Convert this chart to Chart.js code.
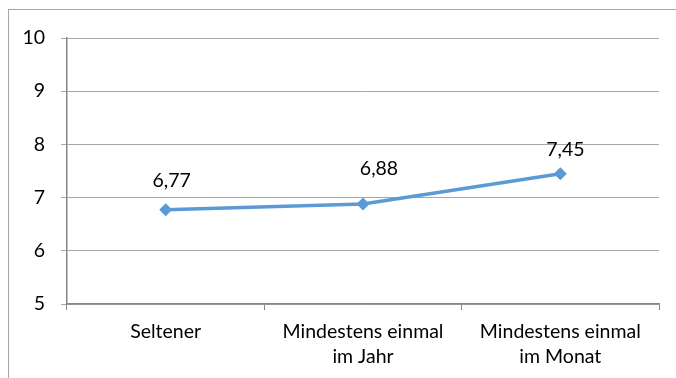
<!DOCTYPE html>
<html>
<head>
<meta charset="utf-8">
<script src="https://cdn.jsdelivr.net/npm/chart.js@4/dist/chart.umd.min.js"></script>
<style>
  html, body { margin: 0; padding: 0; background: #fff; overflow: hidden; width: 676px; height: 378px; }
  #frame { position: absolute; left: 8px; top: 9px; width: 720px; height: 420px; border: 1px solid #a6a6a6; }
  canvas { position: absolute; left: 0; top: 0; }
</style>
</head>
<body>
<div id="frame"></div>
<canvas id="c" width="676" height="378"></canvas>
<script>
const categories = [["Seltener"], ["Mindestens einmal", "im Jahr"], ["Mindestens einmal", "im Monat"]];
const values = [6.77, 6.88, 7.45];
const valueLabels = ["6,77", "6,88", "7,45"];
const yTicks = [5, 6, 7, 8, 9, 10];

const FONT = "Lato, 'Open Sans', sans-serif";
const FSIZE = 19.5;

const labelPlugin = {
  id: 'valueLabels',
  afterDatasetsDraw(chart, args, opts) {
    const ctx = chart.ctx;
    const meta = chart.getDatasetMeta(0);
    ctx.save();
    ctx.font = opts.font;
    ctx.fillStyle = '#000';
    ctx.textAlign = 'center';
    ctx.textBaseline = 'middle';
    meta.data.forEach((pt, i) => {
      ctx.fillText(valueLabels[i], pt.x + opts.dx[i], pt.y + opts.dy[i]);
    });
    ctx.restore();
  }
};

new Chart(document.getElementById('c'), {
  type: 'line',
  data: {
    labels: categories,
    datasets: [{
      data: values,
      borderColor: '#5b9bd5',
      backgroundColor: '#5b9bd5',
      borderWidth: 3.5,
      pointStyle: 'rectRot',
      pointRadius: 6.5,
      pointBorderWidth: 0,
      pointBackgroundColor: '#5b9bd5',
      tension: 0,
      fill: false
    }]
  },
  options: {
    responsive: false,
    devicePixelRatio: 1,
    animation: false,
    layout: { padding: { left: 0, right: 17, top: 38, bottom: 0 } },
    plugins: {
      legend: { display: false },
      tooltip: { enabled: false },
      valueLabels: { font: FSIZE + "px " + FONT, dx: [6, 16, 5], dy: [-29, -35, -24] }
    },
    scales: {
      x: {
        offset: true,
        grid: { display: true, offset: true, drawOnChartArea: false, drawTicks: true, tickLength: 6, color: '#868686', lineWidth: 1 },
        border: { display: true, color: '#868686', width: 1.5 },
        ticks: { color: '#000', font: { family: FONT, size: FSIZE, lineHeight: '25px' }, padding: 9, maxRotation: 0, autoSkip: false },
        afterFit(s) { s.height = 74; }
      },
      y: {
        min: 5, max: 10,
        afterBuildTicks(s) { s.ticks = yTicks.map(v => ({ value: v })); },
        grid: { color: '#a6a6a6', lineWidth: 1, tickLength: 6, drawTicks: true },
        border: { display: true, color: '#868686', width: 1.5 },
        ticks: { color: '#000', font: { family: FONT, size: FSIZE }, padding: 16, callback: v => String(v) },
        afterFit(s) { s.width = 67; }
      }
    }
  },
  plugins: [labelPlugin]
});
</script>
</body>
</html>
